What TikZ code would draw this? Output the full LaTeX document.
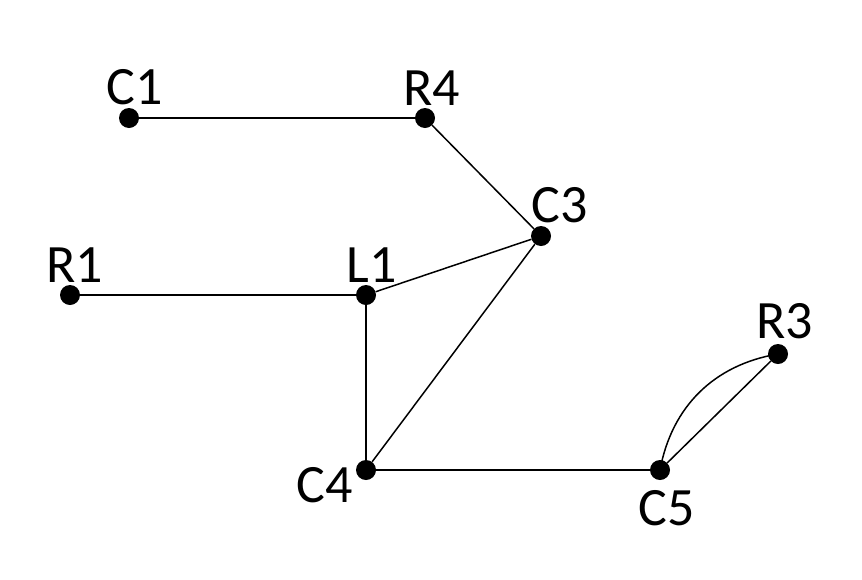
\documentclass[tikz,border=0pt]{standalone}
\usepackage{fontspec}
\setmainfont{Carlito}
\begin{document}
\begin{tikzpicture}[x=1pt,y=-1pt,
  vtx/.style={circle,fill=black,inner sep=0pt,minimum size=20pt},
  lbl/.style={font=\fontsize{54}{54}\selectfont,inner sep=0pt,anchor=center},
  edge/.style={line width=1.5pt}]
\useasboundingbox (0,0) rectangle (862,579);
\node[vtx] (C1) at (129,118) {};
\node[vtx] (R4) at (425,118) {};
\node[vtx] (C3) at (541,236) {};
\node[vtx] (R1) at (70,295) {};
\node[vtx] (L1) at (366,295) {};
\node[vtx] (R3) at (778,354) {};
\node[vtx] (C4) at (366,470) {};
\node[vtx] (C5) at (660,470) {};
\node[lbl] (tC1) at (135,87) {C1};
\node[lbl] (tR4) at (432,88) {R4};
\node[lbl] (tC3) at (560,205) {C3};
\node[lbl] (tR1) at (75,265) {R1};
\node[lbl] (tL1) at (372,265) {L1};
\node[lbl] (tR3) at (785,321) {R3};
\node[lbl] (tC4) at (325,485) {C4};
\node[lbl] (tC5) at (667,508) {C5};
\draw[edge] (C1) -- (R4);
\draw[edge] (R4) -- (C3);
\draw[edge] (R1) -- (L1);
\draw[edge] (L1) -- (C3);
\draw[edge] (L1) -- (C4);
\draw[edge] (C3) -- (C4);
\draw[edge] (C4) -- (C5);
\draw[edge] (C5) -- (R3);
\draw[edge] (C5.center) to[bend left=35] (R3.center);
\end{tikzpicture}
\end{document}
